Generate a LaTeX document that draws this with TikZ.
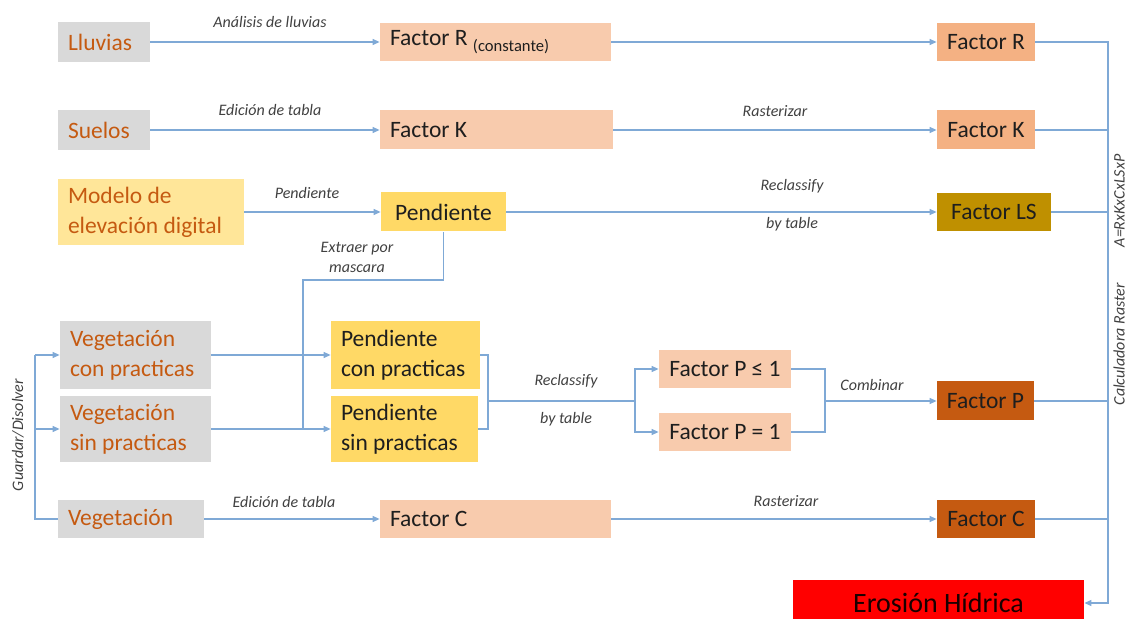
\documentclass[tikz,border=0pt]{standalone}
\usepackage{fontspec}
\setmainfont{Carlito}
\usetikzlibrary{arrows.meta}
\definecolor{rust}{HTML}{C55A11}
\definecolor{greybox}{HTML}{D9D9D9}
\definecolor{peach}{HTML}{F8CBAD}
\definecolor{salmon}{HTML}{F4B183}
\definecolor{sand}{HTML}{FFE699}
\definecolor{butter}{HTML}{FFD966}
\definecolor{ochre}{HTML}{BF9000}
\definecolor{wire}{HTML}{7FA9D6}
\definecolor{ink}{HTML}{1E1E1E}

\begin{document}
\begin{tikzpicture}[x=0.5pt,y=-0.5pt,
  box/.style={rectangle,inner xsep=5pt,inner ysep=0pt,align=flush left,text=ink,font=\fontsize{11.75}{15}\selectfont},
  midbox/.style={box,align=center,inner xsep=2pt},
  srcbox/.style={box,fill=greybox,text=rust},
  stepbox/.style={box,fill=peach},
  slopebox/.style={box,fill=butter},
  line/.style={draw=wire,line width=0.6pt},
  flow/.style={line,-{Triangle[length=3.5pt,width=3pt]}},
  lbl/.style={font=\fontsize{8}{10}\selectfont\itshape,text=ink!85,inner sep=1pt}]
\useasboundingbox (0,0) rectangle (1129,619);

\node[srcbox,text width=36pt,minimum height=20pt] (lluv) at (104,42) {Lluvias};
\node[stepbox,text width=105.5pt,minimum height=19pt] (facRc) at (495.5,42) {Factor R \raisebox{-3pt}{\fontsize{8.3}{9}\selectfont(constante)}};
\node[midbox,fill=salmon,minimum width=49pt,minimum height=19pt] (facR) at (986,42) {Factor R};

\node[srcbox,text width=36pt,minimum height=20pt] (suel) at (104,130) {Suelos};
\node[stepbox,text width=106.5pt,minimum height=19.5pt] (facKm) at (496.5,130) {Factor K};
\node[midbox,fill=salmon,minimum width=49pt,minimum height=19.5pt] (facK) at (986,130) {Factor K};

\node[srcbox,fill=sand,text width=83pt,minimum height=33pt] (mde) at (151,212) {Modelo de\\elevación digital};
\node[midbox,fill=butter,minimum width=62.5pt,minimum height=19.5pt] (pend) at (443.5,212) {Pendiente};
\node[midbox,fill=ochre,minimum width=57pt,minimum height=19pt] (facLS) at (994,212) {Factor LS};

\node[srcbox,text width=65.5pt,minimum height=34pt] (vegcon) at (135.5,355) {Vegetación\\con practicas};
\node[srcbox,text width=65.5pt,minimum height=33pt] (vegsin) at (135.5,429) {Vegetación\\sin practicas};
\node[slopebox,text width=64.5pt,minimum height=34pt] (pencon) at (405.5,355) {Pendiente\\con practicas};
\node[slopebox,text width=63.5pt,minimum height=33pt] (pensin) at (404.5,429) {Pendiente\\sin practicas};

\node[midbox,fill=peach,minimum width=66pt,minimum height=19pt] (facPle) at (725,369) {Factor P ≤ 1};
\node[midbox,fill=peach,minimum width=66pt,minimum height=19pt] (facPeq) at (725,432) {Factor P = 1};
\node[midbox,fill=rust,minimum width=48.5pt,minimum height=19.5pt] (facP) at (985.5,401) {Factor P};

\node[srcbox,text width=63pt,minimum height=19pt] (veg) at (131,519) {Vegetación};
\node[stepbox,text width=105.5pt,minimum height=19pt] (facCm) at (495.5,519) {Factor C};
\node[midbox,fill=rust,minimum width=49pt,minimum height=19pt] (facC) at (986,519) {Factor C};

\node[midbox,fill=red,minimum width=145.5pt,minimum height=23pt,font=\fontsize{14}{16}\selectfont,text=black!90!red] (eros) at (938.5,603) {Erosión Hídrica};

\draw[flow] (lluv) -- (facRc);
\draw[flow] (facRc) -- (facR);
\draw[flow] (suel) -- (facKm);
\draw[flow] (facKm) -- (facK);
\draw[flow] (mde) -- (pend);
\draw[flow] (pend) -- (facLS);
\draw[flow] (veg) -- (facCm);
\draw[flow] (facCm) -- (facC);

\coordinate (gd) at (35,355);
\draw[line] (gd) -- (gd |- veg) -- (veg.west);
\draw[flow] (gd) -- (vegcon.west);
\draw[flow] (gd |- vegsin) -- (vegsin.west);

\coordinate (mk) at (303,280);
\draw[line] (pend.south) |- (mk) -- (mk |- pensin);
\draw[flow] (vegcon) -- (pencon);
\draw[flow] (vegsin) -- (pensin);

\coordinate (rc) at (488,401);
\coordinate (sp) at (635,401);
\draw[line] (pencon.east) -| (rc) |- (pensin.east);
\draw[line] (rc) -- (sp);
\draw[flow] (sp) |- (facPle);
\draw[flow] (sp) |- (facPeq);

\coordinate (cb) at (825,401);
\draw[line] (facPle.east) -| (cb) |- (facPeq.east);
\draw[flow] (cb) -- (facP);

\coordinate (bus) at (1108,42);
\draw[flow] (facR) -- (bus) |- (eros);
\draw[line] (facK) -- (facK -| bus);
\draw[line] (facLS) -- (facLS -| bus);
\draw[line] (facP) -- (facP -| bus);
\draw[line] (facC) -- (facC -| bus);

\node[lbl] (t1) at (270,22) {Análisis de lluvias};
\node[lbl] (t2) at (270,110) {Edición de tabla};
\node[lbl] (t3) at (775,111) {Rasterizar};
\node[lbl] (t4) at (307,193) {Pendiente};
\node[lbl] (t5) at (792,186) {Reclassify};
\node[lbl] (t6) at (792,224) {by table};
\node[lbl,align=center] (t7) at (357,257) {Extraer por\\mascara};
\node[lbl] (t8) at (566,381) {Reclassify};
\node[lbl] (t9) at (566,419) {by table};
\node[lbl] (t10) at (872,385) {Combinar};
\node[lbl] (t11) at (284,502) {Edición de tabla};
\node[lbl] (t12) at (786,501) {Rasterizar};
\node[lbl,rotate=90] (t13) at (18,435) {Guardar/Disolver};
\node[lbl,rotate=90] (t14) at (1119,280) {Calculadora Raster\hspace{18pt}A=RxKxCxLSxP};
\end{tikzpicture}
\end{document}
